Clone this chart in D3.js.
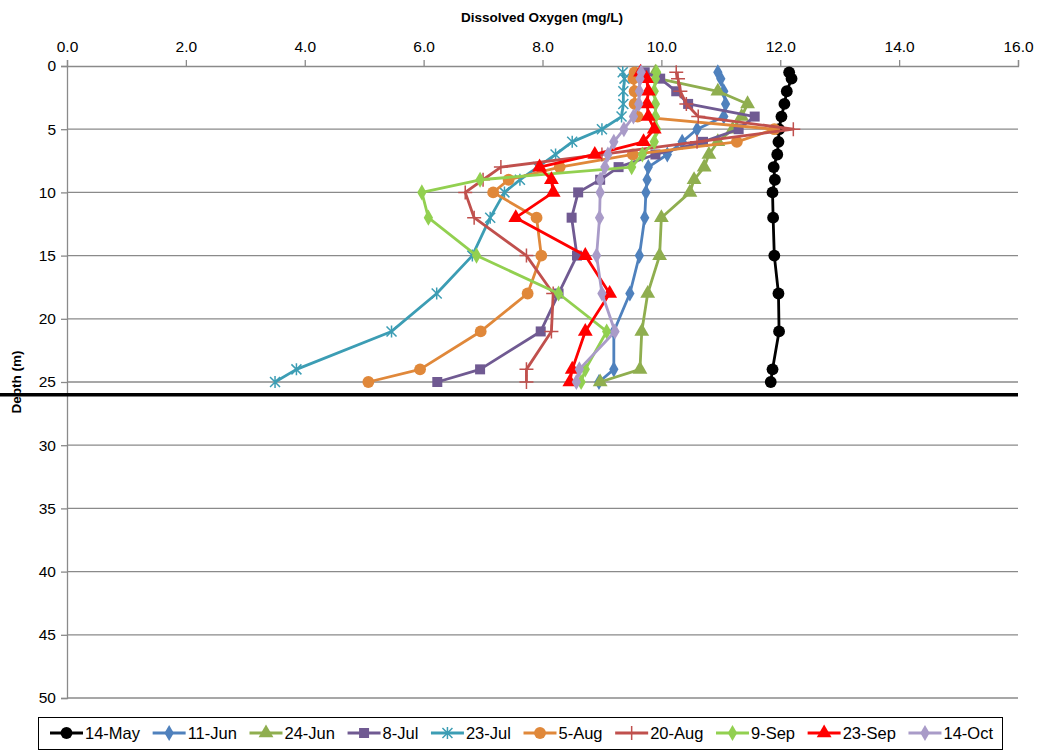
<!DOCTYPE html>
<html><head><meta charset="utf-8">
<script src="https://cdn.jsdelivr.net/npm/d3@7"></script>
<style>
html,body{margin:0;padding:0;background:#fff;}
text{font-family:"Liberation Sans",Arial,sans-serif;}
</style></head>
<body><svg id="c" width="1039" height="751"></svg>
<script>
const depths = [0.5,1,2,3,4,5,6,7,8,9,10,12,15,18,21,24,25];
const seriesNames = ["14-May","11-Jun","24-Jun","8-Jul","23-Jul","5-Aug","20-Aug","9-Sep","23-Sep","14-Oct"];
const may14 = [12.15,12.19,12.11,12.07,12.02,11.98,11.97,11.95,11.89,11.91,11.87,11.88,11.90,11.97,11.98,11.87,11.84];
const jun11 = [10.95,11.0,11.05,11.08,11.05,10.6,10.35,10.1,9.78,9.76,9.74,9.72,9.63,9.47,9.2,9.2,8.95];
const jun24 = [9.9,9.95,10.95,11.45,11.35,11.2,10.95,10.8,10.72,10.55,10.48,10.0,9.97,9.77,9.67,9.64,8.97];
const jul8 = [9.72,9.98,10.25,10.45,11.57,11.3,10.7,9.9,9.28,8.97,8.6,8.49,8.58,8.27,7.97,6.95,6.23];
const jul23 = [9.35,9.38,9.36,9.36,9.33,9.0,8.5,8.22,7.92,7.62,7.36,7.12,6.82,6.22,5.46,3.86,3.5];
const aug5 = [9.55,9.53,9.55,9.55,9.6,11.9,11.27,9.52,8.29,7.43,7.17,7.9,7.98,7.75,6.96,5.94,5.07];
const aug20 = [10.25,10.28,10.32,10.42,10.62,12.22,10.6,9.0,7.3,7.0,6.7,6.85,7.73,8.18,8.15,7.73,7.73];
const sep9 = [9.92,9.9,9.88,9.9,9.9,9.92,9.88,9.68,9.5,6.95,5.97,6.08,6.89,8.27,9.08,8.72,8.65];
const sep23 = [9.65,9.75,9.78,9.76,9.78,9.88,9.7,8.88,7.95,8.15,8.18,7.55,8.72,9.13,8.72,8.5,8.46];
const oct14 = [9.66,9.64,9.63,9.62,9.53,9.37,9.2,9.1,9.05,8.97,8.97,8.96,8.91,9.0,9.22,8.62,8.57];
const seriesValues = [may14,jun11,jun24,jul8,jul23,aug5,aug20,sep9,sep23,oct14];
const xTicks = [0,2,4,6,8,10,12,14,16];
const yTicks = [0,5,10,15,20,25,30,35,40,45,50];
const bottomDepth = [26];
const xTitle = "Dissolved Oxygen (mg/L)";
const yTitle = "Depth (m)";

const colors = ["#000000","#4F81BD","#8FAE4F","#705A92","#3C9DB4","#E0883A","#C0504D","#92D050","#FF0000","#A99BC8"];
const markers = ["circle","diamond","triangle","square","asterisk","circle","plus","diamond","triangle","diamond"];

const svg = d3.select("#c");
const x = d3.scaleLinear().domain([0,16]).range([67,1018]);
const y = d3.scaleLinear().domain([0,50]).range([66,698]);

// gridlines
svg.append("g").selectAll("line").data(yTicks.filter(d=>d>0)).join("line")
  .attr("x1",x(0)).attr("x2",x(16)).attr("y1",d=>y(d)).attr("y2",d=>y(d))
  .attr("stroke","#8a8a8a").attr("stroke-width",1.3);

// axes
const gx = svg.append("g").attr("transform",`translate(0,${y(0)})`)
  .call(d3.axisTop(x).tickValues(xTicks).tickFormat(d3.format(".1f")).tickSize(6).tickPadding(8));
const gy = svg.append("g").attr("transform",`translate(${x(0)},0)`)
  .call(d3.axisLeft(y).tickValues(yTicks).tickSize(6).tickPadding(5));
[gx,gy].forEach(g=>{
  g.selectAll("path").attr("stroke","#8a8a8a").attr("stroke-width",1.3);
  g.selectAll("line").attr("stroke","#8a8a8a").attr("stroke-width",1.3);
  g.selectAll("text").attr("fill","#000").style("font-size","15.5px").style("font-family",'"Liberation Sans",Arial,sans-serif');
});

// titles
svg.append("text").attr("x",542).attr("y",22).attr("text-anchor","middle")
  .style("font-size","13.5px").style("font-weight","bold").text(xTitle);
svg.append("text").attr("transform",`translate(21,${382}) rotate(-90)`).attr("text-anchor","middle")
  .style("font-size","13.5px").style("font-weight","bold").text(yTitle);

// bottom line
svg.append("g").selectAll("line").data(bottomDepth).join("line")
  .attr("x1",0).attr("x2",x(16)).attr("y1",d=>y(d)).attr("y2",d=>y(d))
  .attr("stroke","#000").attr("stroke-width",3.5);

function markerPath(type){
  switch(type){
    case "circle": return d3.symbol(d3.symbolCircle,110)();
    case "diamond": return d3.symbol(d3.symbolDiamond,75)();
    case "triangle": return d3.symbol(d3.symbolTriangle,95)();
    case "square": return d3.symbol(d3.symbolSquare,100)();
    case "asterisk": return "M-5,-5L5,5M-5,5L5,-5M0,-6V6";
    case "plus": return "M-7,0H7M0,-7V7";
  }
}

const line = d3.line().x(d=>x(d[1])).y(d=>y(d[0]));
seriesValues.forEach((vals,i)=>{
  const pts = depths.map((d,j)=>[d,vals[j]]);
  const g = svg.append("g");
  g.append("path").datum(pts).attr("d",line).attr("fill","none")
    .attr("stroke",colors[i]).attr("stroke-width",2.8).attr("stroke-linejoin","round");
  const t = markers[i];
  const stroked = (t==="asterisk"||t==="plus");
  g.selectAll("path.m").data(pts).join("path").attr("class","m")
    .attr("transform",d=>`translate(${x(d[1])},${y(d[0])})`)
    .attr("d",markerPath(t))
    .attr("fill",stroked?"none":colors[i])
    .attr("stroke",colors[i]).attr("stroke-width",stroked?1.5:0);
});

// legend
const lg = svg.append("g");
lg.append("rect").attr("x",38.5).attr("y",717.5).attr("width",964).attr("height",32)
  .attr("fill","#fff").attr("stroke","#000").attr("stroke-width",1);
const items = lg.selectAll("g.item").data(seriesNames).join("g").attr("class","item");
items.append("text").attr("x",35).attr("y",0).attr("dy","0.35em").style("font-size","16.5px").text(d=>d);
const widths = [];
items.select("text").each(function(){widths.push(this.getComputedTextLength());});
const symW = 33, startX = 50, endX = 993;
const total = d3.sum(widths) + seriesNames.length*(symW+2);
const gap = (endX-startX-total)/(seriesNames.length-1);
let cx = startX;
items.each(function(d,i){
  const gi = d3.select(this).attr("transform",`translate(${cx},733)`);
  gi.insert("line","text").attr("x1",0).attr("x2",symW).attr("y1",0).attr("y2",0)
    .attr("stroke",colors[i]).attr("stroke-width",2.8);
  const t = markers[i];
  const stroked = (t==="asterisk"||t==="plus");
  gi.insert("path","text").attr("transform",`translate(${symW/2},0)`).attr("d",markerPath(t))
    .attr("fill",stroked?"none":colors[i]).attr("stroke",colors[i]).attr("stroke-width",stroked?1.5:0);
  cx += symW + 2 + widths[i] + gap;
});
</script></body></html>
